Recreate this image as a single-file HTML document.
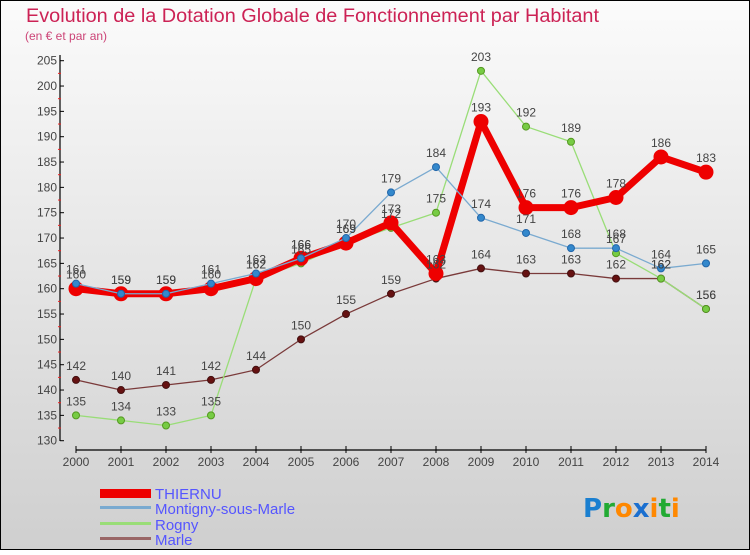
<!DOCTYPE html>
<html><head><meta charset="utf-8"><style>
html,body{margin:0;padding:0}
body{width:750px;height:550px;overflow:hidden;font-family:"Liberation Sans",sans-serif}
</style></head><body>
<svg id="chart" width="750" height="550" xmlns="http://www.w3.org/2000/svg" font-family="Liberation Sans, sans-serif">
<defs><linearGradient id="bg" x1="0" y1="0" x2="0" y2="1"><stop offset="0" stop-color="#fbfbfb"/><stop offset="1" stop-color="#cfcfcf"/></linearGradient></defs>
<rect x="0.5" y="0.5" width="749" height="549" fill="url(#bg)" stroke="#000"/>
<text x="26" y="22" font-size="19" fill="#cc2255" textLength="573" lengthAdjust="spacingAndGlyphs">Evolution de la Dotation Globale de Fonctionnement par Habitant</text>
<text x="25" y="40" font-size="12" fill="#cc4477">(en € et par an)</text>
<g id="axes"></g><g id="series"></g><g id="labels"></g>
<g>
<rect x="100" y="489" width="51" height="9" fill="#ee0000"/>
<text x="155" y="499" font-size="15" fill="#5555ff">THIERNU</text>
<rect x="100" y="506" width="51" height="3" fill="#7aaad0"/>
<text x="155" y="514" font-size="15" fill="#5555ff">Montigny-sous-Marle</text>
<rect x="100" y="522" width="51" height="3" fill="#99dd77"/>
<text x="155" y="530" font-size="15" fill="#5555ff">Rogny</text>
<rect x="100" y="537" width="51" height="3" fill="#996666"/>
<text x="155" y="545" font-size="15" fill="#5555ff">Marle</text>
</g>
<g font-size="26" font-weight="bold" font-family="DejaVu Sans, sans-serif">
<text x="583" y="517"><tspan fill="#1a7fd0">P</tspan><tspan fill="#22aa33">r</tspan><tspan fill="#ff8800">o</tspan><tspan fill="#1a6fd0">x</tspan><tspan fill="#ff8800">i</tspan><tspan fill="#22aa33">t</tspan><tspan fill="#ff8800">i</tspan></text>
</g>
</svg>
<script>
const years = [2000,2001,2002,2003,2004,2005,2006,2007,2008,2009,2010,2011,2012,2013,2014];
const thiernu = [160,159,159,160,162,166,169,173,163,193,176,176,178,186,183];
const montigny = [161,159,159,161,163,166,170,179,184,174,171,168,168,164,165];
const rogny = [135,134,133,135,162,165,169,172,175,203,192,189,167,162,156];
const marle = [142,140,141,142,144,150,155,159,162,164,163,163,162,162,156];
const yTicks = [130,135,140,145,150,155,160,165,170,175,180,185,190,195,200,205];

const NS="http://www.w3.org/2000/svg";
const X=i=>76+i*45;
const Y=v=>440.7-(v-130)*(380/75);
function mk(tag,attrs,parent,text){const e=document.createElementNS(NS,tag);for(const k in attrs)e.setAttribute(k,attrs[k]);if(text!==undefined)e.textContent=text;parent.appendChild(e);return e;}
const axes=document.getElementById('axes'),ser=document.getElementById('series'),lab=document.getElementById('labels');
let a=mk('line',{x1:60,y1:55,x2:60,y2:441,stroke:'#000','stroke-width':1.2},axes);


yTicks.forEach(v=>{
 mk('line',{x1:60,x2:64,y1:Y(v),y2:Y(v),stroke:'#000'},axes);
 if(v<205) mk('line',{x1:58,x2:61,y1:Y(v+2.5),y2:Y(v+2.5),stroke:'#ee2222'},axes);
 const t=mk('text',{x:57,y:Y(v)+4,'font-size':12,fill:'#444','text-anchor':'end'},axes,v);
 
 
});
let xa=mk('line',{x1:76,y1:450,x2:706,y2:450,stroke:'#000','stroke-width':1.2},axes);


years.forEach((y,i)=>{
 mk('line',{x1:X(i),x2:X(i),y1:446,y2:453,stroke:'#000'},axes);
 const t=mk('text',{x:X(i),y:466,'font-size':12,fill:'#444','text-anchor':'middle'},axes,y);
 
 
});
function series(data,name,color,w,r,dot,stroke){
 const g=mk('g',{},ser);
 
 
 const p=mk('polyline',{points:data.map((v,i)=>X(i)+','+Y(v)).join(' '),fill:'none',stroke:color,'stroke-width':w,'stroke-linejoin':'round'},g);
 
 
 data.forEach((v,i)=>{
  const c=mk('circle',{cx:X(i),cy:Y(v),r:r,fill:dot,stroke:stroke,'stroke-width':1},g);
  
  
  const t=mk('text',{x:X(i),y:Y(v)-10,'font-size':12,fill:'#444','text-anchor':'middle'},lab,v);
  
  
 });
}
series(marle,'marle','#7a3a3a',1.3,3.5,'#661111','#441111');
series(rogny,'rogny','#99dd77',1.3,3.5,'#77cc44','#559922');
series(thiernu,'thiernu','#ee0000',7,7,'#ee0000','#ee0000');
series(montigny,'montigny','#7aaad0',1.3,3.5,'#3388cc','#2266aa');
</script>
</body></html>
